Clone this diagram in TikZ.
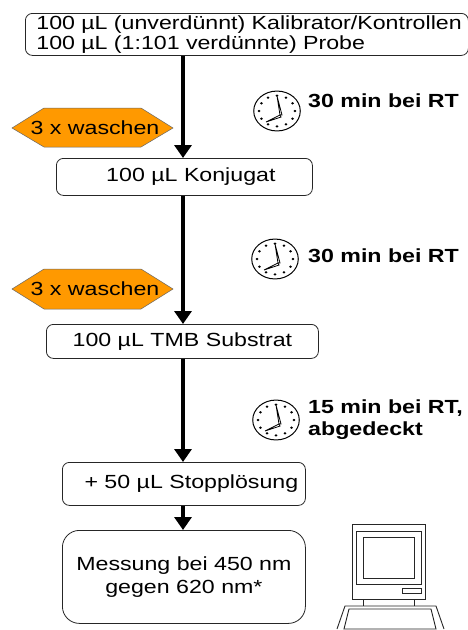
\documentclass[tikz,border=0pt]{standalone}
\usepackage{fontspec}
\setmainfont[FakeStretch=1.22]{Liberation Sans}
\usetikzlibrary{arrows.meta}
\definecolor{hexorange}{RGB}{255,153,0}
\tikzset{x=1pt,y=-1pt,
 stepbox/.style={draw=black!85,line width=0.8pt,rounded corners=7pt,fill=white,font=\fontsize{19}{20.5}\selectfont,align=center,inner sep=0pt,anchor=north west},
 flow/.style={line width=4.5pt,-{Triangle[length=13pt,width=17pt]}},
 hexa/.style={draw=black!60,fill=hexorange,line width=0.5pt},
 hexlab/.style={font=\fontsize{19}{20}\selectfont,inner sep=0pt},
 timelab/.style={font=\bfseries\fontsize{19}{22}\selectfont,align=left,anchor=west,inner sep=0pt},
 thinline/.style={line width=0.9pt,draw=black!85},
 clock/.pic={
  \draw[line width=1pt,fill=white,xscale=1.33,yscale=1.14] (0,0) circle[radius=17.5];
  \foreach \a in {0,30,...,330} \fill[xscale=1.33,yscale=1.14] (\a:13.5) circle[radius=1.1];
  \draw[line width=0.8pt,fill=white] (3,4) -- (0,-15) -- (5,4) -- cycle;
  \draw[line width=0.8pt,fill=white] (3,4) -- (-11,11) -- (4,6) -- cycle;
 }}
\begin{document}
\begin{tikzpicture}
\useasboundingbox (0,0) rectangle (468,630);
\fill[white] (0,0) rectangle (468,630);
% boxes
\node[stepbox,minimum width=443pt,minimum height=42pt,text width=443pt,align=left] (a) at (25,13) {\hspace*{11pt}100 µL (unverdünnt) Kalibrator/Kontrollen\\\hspace*{11pt}100 µL (1:101 verdünnte) Probe};
\node[stepbox,minimum width=256pt,minimum height=37pt] (b) at (56,158) {\hspace*{13pt}100 µL Konjugat};
\node[stepbox,minimum width=272pt,minimum height=34pt] (c) at (46,324) {100 µL TMB Substrat};
\node[stepbox,minimum width=243pt,minimum height=43pt] (d) at (62,462) {\hspace*{15pt}+ 50 µL Stopplösung};
\node[stepbox,minimum width=243pt,minimum height=93pt,rounded corners=17pt,font=\fontsize{19}{23}\selectfont] (e) at (62,530) {Messung bei 450 nm\\gegen 620 nm*};
% connectors
\draw[flow] (a.south -| 183,0) -- (b.north -| 183,0);
\draw[flow] (b.south -| 183,0) -- (c.north -| 183,0);
\draw[flow] (c.south -| 183,0) -- (d.north -| 183,0);
\draw[flow] (d.south -| 183,0) -- (e.north -| 183,0);
% wash hexagons
\draw[hexa] (12,128) -- (44,108) -- (141,108) -- (173,128) -- (141,147) -- (44,147) -- cycle;
\node[hexlab] (w1) at (95,128) {3 x waschen};
\draw[hexa] (12,289) -- (44,269) -- (141,269) -- (173,289) -- (141,309) -- (44,309) -- cycle;
\node[hexlab] (w2) at (95,289) {3 x waschen};
% clocks
\pic at (277,111) {clock};
\pic at (275,259) {clock};
\pic at (276,420) {clock};
\node[timelab] (t1) at (308,101) {30 min bei RT};
\node[timelab] (t2) at (308,256) {30 min bei RT};
\node[timelab] (t3) at (308,420) {15 min bei RT,\\abgedeckt};
% computer
\draw[thinline] (352,524) rectangle (425,599);
\draw[thinline] (356,531) rectangle (421,584);
\draw[thinline] (363,537) rectangle (414,578);
\draw[thinline] (402,588) rectangle (421,593);
\draw[thinline] (363,599) -- (363,606) (414,599) -- (414,606);
\draw[thinline] (337,629) -- (345,606) -- (436,606) -- (444,629);
\draw[thinline] (344,629) -- (349,609) -- (431,609) -- (436,629) -- cycle;
\end{tikzpicture}
\end{document}
